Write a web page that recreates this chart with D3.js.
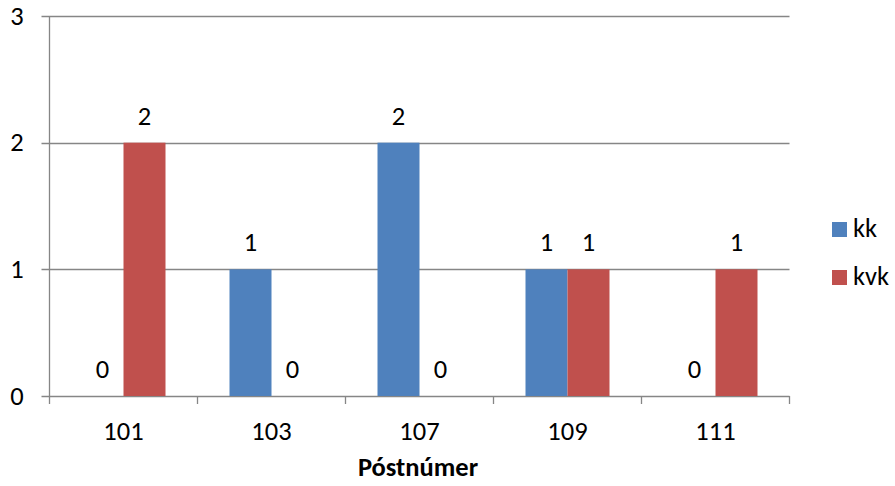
<!DOCTYPE html>
<html><head><meta charset="utf-8">
<script src="https://cdn.jsdelivr.net/npm/d3@7"></script>
<style>body{margin:0;background:#fff}svg{display:block}text{font-family:Carlito,Calibri,Lato,sans-serif;fill:#000}</style>
</head><body>
<svg id="c" width="895" height="486"></svg>
<script>
const categories = ["101","103","107","109","111"];
const seriesNames = ["kk","kvk"];
const kk  = [0,1,2,1,0];
const kvk = [2,0,0,1,1];
const yTicks = [0,1,2,3];
const colors = ["#4F81BD","#C0504D"];
const xTitle = "Póstnúmer";

const svg = d3.select("#c");
const L=49.5, R=789.5, T=16, B=396;
const x = d3.scaleBand().domain(categories).range([L,R]);
const y = d3.scaleLinear().domain([0,3]).range([B,T]);
const bw = 42;
const fs = 26.5;
const values = [kk,kvk];

svg.append("g").selectAll("line").data(yTicks).join("line")
  .attr("x1",L-8).attr("x2",R).attr("y1",d=>Math.round(y(d))+0.5).attr("y2",d=>Math.round(y(d))+0.5)
  .attr("stroke","#868686").attr("stroke-width",1.3);
svg.append("line").attr("x1",L).attr("x2",L).attr("y1",T).attr("y2",B+0.5).attr("stroke","#868686").attr("stroke-width",1.3);
const bounds = categories.map(c=>x(c)).concat([R]);
svg.append("g").selectAll("line").data(bounds).join("line")
  .attr("x1",d=>d).attr("x2",d=>d).attr("y1",B).attr("y2",B+8)
  .attr("stroke","#868686").attr("stroke-width",1.3);
svg.append("g").selectAll("text").data(yTicks).join("text")
  .attr("x",17).attr("y",d=>y(d)+8.5).attr("text-anchor","middle").attr("font-size",fs).text(d=>d);
svg.append("g").selectAll("text").data(categories).join("text")
  .attr("x",d=>x(d)+x.bandwidth()/2).attr("y",439.5).attr("text-anchor","middle").attr("font-size",fs).text(d=>d);
seriesNames.forEach((s,si)=>{
  const g = svg.append("g");
  const data = categories.map((c,i)=>({c,v:values[si][i]}));
  const bx = d=>x(d.c)+x.bandwidth()/2 - bw + si*bw;
  g.selectAll("rect").data(data.filter(d=>d.v>0)).join("rect")
    .attr("x",bx).attr("width",bw).attr("y",d=>y(d.v)).attr("height",d=>y(0)-y(d.v))
    .attr("fill",colors[si]);
  g.selectAll("text").data(data).join("text")
    .attr("x",d=>bx(d)+bw/2).attr("y",d=>y(d.v)-18).attr("text-anchor","middle").attr("font-size",fs).text(d=>d.v);
});
svg.append("text").attr("x",418).attr("y",476).attr("text-anchor","middle").attr("font-size",fs).attr("font-weight","bold").text(xTitle);
const lg = svg.append("g").selectAll("g").data(seriesNames).join("g")
  .attr("transform",(d,i)=>`translate(832,${222+i*48})`);
lg.append("rect").attr("width",15).attr("height",15).attr("fill",(d,i)=>colors[i]);
lg.append("text").attr("x",21).attr("y",14.5).attr("font-size",fs).text(d=>d);
</script>
</body></html>
